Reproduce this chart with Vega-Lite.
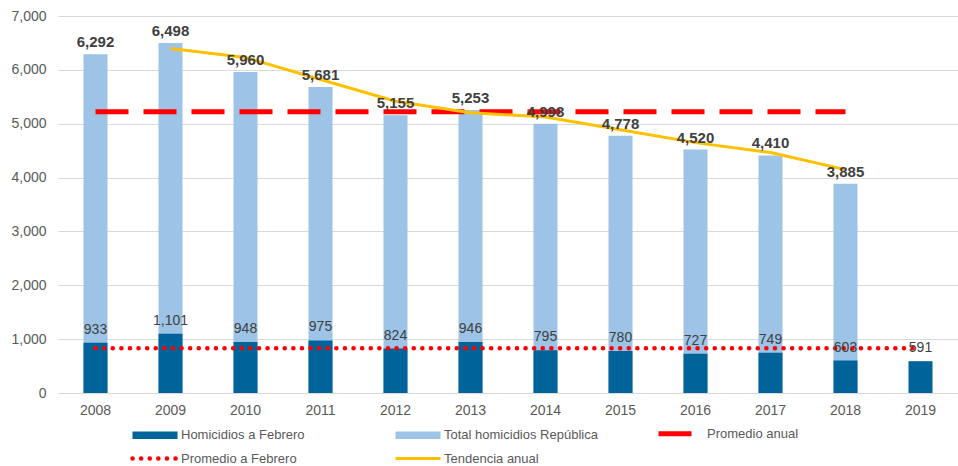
{
  "$schema": "https://vega.github.io/schema/vega-lite/v6.json",
  "width": 900,
  "height": 377,
  "autosize": {"type": "none"},
  "padding": {"left": 58, "top": 16, "right": 0, "bottom": 73},
  "background": "white",
  "config": {
    "view": {"stroke": null},
    "font": "Liberation Sans",
    "axis": {"labelFont": "Liberation Sans", "labelFontSize": 14, "labelColor": "#595959", "ticks": false, "domain": false, "title": null},
    "axisY": {"labelPadding": 12, "gridColor": "#D9D9D9", "gridWidth": 1}
  },
  "data": {
    "values": [
      {"year": "2008", "total": 6292, "feb": 933, "trend": null, "avg_annual": 5221, "avg_feb": 831},
      {"year": "2009", "total": 6498, "feb": 1101, "trend": 6395, "avg_annual": 5221, "avg_feb": 831},
      {"year": "2010", "total": 5960, "feb": 948, "trend": 6229, "avg_annual": 5221, "avg_feb": 831},
      {"year": "2011", "total": 5681, "feb": 975, "trend": 5820.5, "avg_annual": 5221, "avg_feb": 831},
      {"year": "2012", "total": 5155, "feb": 824, "trend": 5418, "avg_annual": 5221, "avg_feb": 831},
      {"year": "2013", "total": 5253, "feb": 946, "trend": 5204, "avg_annual": 5221, "avg_feb": 831},
      {"year": "2014", "total": 4998, "feb": 795, "trend": 5125.5, "avg_annual": 5221, "avg_feb": 831},
      {"year": "2015", "total": 4778, "feb": 780, "trend": 4888, "avg_annual": 5221, "avg_feb": 831},
      {"year": "2016", "total": 4520, "feb": 727, "trend": 4649, "avg_annual": 5221, "avg_feb": 831},
      {"year": "2017", "total": 4410, "feb": 749, "trend": 4465, "avg_annual": 5221, "avg_feb": 831},
      {"year": "2018", "total": 3885, "feb": 603, "trend": 4147.5, "avg_annual": 5221, "avg_feb": 831},
      {"year": "2019", "total": null, "feb": 591, "trend": null, "avg_annual": null, "avg_feb": 831}
    ]
  },
  "encoding": {
    "x": {"field": "year", "type": "ordinal", "scale": {"paddingInner": 0.68, "paddingOuter": 0.34},
      "axis": {"labelAngle": 0, "labelPadding": 10, "grid": false}}
  },
  "layer": [
    {
      "mark": {"type": "bar", "color": "#9DC3E6"},
      "encoding": {
        "y": {"field": "total", "type": "quantitative", "scale": {"domain": [0, 7000]},
          "axis": {"values": [0, 1000, 2000, 3000, 4000, 5000, 6000, 7000], "labelExpr": "format(datum.value, ',')"}},
        "color": {"datum": "Total homicidios República"}
      }
    },
    {
      "mark": {"type": "bar"},
      "encoding": {
        "y": {"field": "feb", "type": "quantitative"},
        "color": {"datum": "Homicidios a Febrero"}
      }
    },
    {
      "mark": {"type": "line", "strokeWidth": 5, "strokeDash": [33, 15]},
      "encoding": {
        "y": {"field": "avg_annual", "type": "quantitative"},
        "color": {"datum": "Promedio anual"}
      }
    },
    {
      "mark": {"type": "line", "strokeWidth": 4.5, "strokeDash": [0.1, 8.5], "strokeCap": "round"},
      "encoding": {
        "y": {"field": "avg_feb", "type": "quantitative"},
        "color": {"datum": "Promedio a Febrero"}
      }
    },
    {
      "mark": {"type": "line", "strokeWidth": 3},
      "encoding": {
        "y": {"field": "trend", "type": "quantitative"},
        "color": {"datum": "Tendencia anual",
          "scale": {"domain": ["Homicidios a Febrero", "Total homicidios República", "Promedio anual", "Promedio a Febrero", "Tendencia anual"],
            "range": ["#00639A", "#9DC3E6", "#FF0000", "#FF0000", "#FFC000"]},
          "legend": {
            "title": null,
            "orient": "none",
            "legendX": 73,
            "legendY": 411,
            "direction": "horizontal",
            "columns": 3,
            "gridAlign": "all",
            "columnPadding": 50,
            "rowPadding": 5,
            "symbolSize": 100,
            "labelOffset": 37,
            "labelLimit": 300,
            "labelFont": "Liberation Sans",
            "labelFontSize": 13,
            "labelColor": "#595959",
            "padding": 0,
            "encode": {
              "symbols": {
                "update": {
                  "shape": {"signal": "(datum.value == 'Homicidios a Febrero' || datum.value == 'Total homicidios República') ? 'M-1,-0.75H8V0.75H-1Z' : 'M-1,0H8'"},
                  "fill": {"signal": "(datum.value == 'Homicidios a Febrero' || datum.value == 'Total homicidios República') ? scale('color', datum.value) : 'transparent'"},
                  "stroke": {"signal": "scale('color', datum.value)"},
                  "strokeWidth": {"signal": "datum.value == 'Promedio a Febrero' ? 4.5 : datum.value == 'Promedio anual' ? 5 : datum.value == 'Tendencia anual' ? 3 : 0"},
                  "strokeDash": {"signal": "datum.value == 'Promedio a Febrero' ? [0.1, 8.5] : datum.value == 'Promedio anual' ? [33, 40] : [1, 0]"},
                  "strokeCap": {"signal": "datum.value == 'Promedio a Febrero' ? 'round' : 'butt'"},
                  "opacity": {"value": 1},
                  "size": {"value": 100}
                }
              }
            }
          }
        }
      }
    },
    {
      "mark": {"type": "text", "fontWeight": "bold", "fontSize": 15, "color": "#404040", "baseline": "alphabetic", "dy": -7},
      "encoding": {
        "y": {"field": "total", "type": "quantitative"},
        "text": {"field": "total", "type": "quantitative", "format": ","}
      }
    },
    {
      "mark": {"type": "text", "fontSize": 14, "color": "#404040", "baseline": "alphabetic", "dy": -9},
      "encoding": {
        "y": {"field": "feb", "type": "quantitative"},
        "text": {"field": "feb", "type": "quantitative", "format": ","}
      }
    }
  ]
}
